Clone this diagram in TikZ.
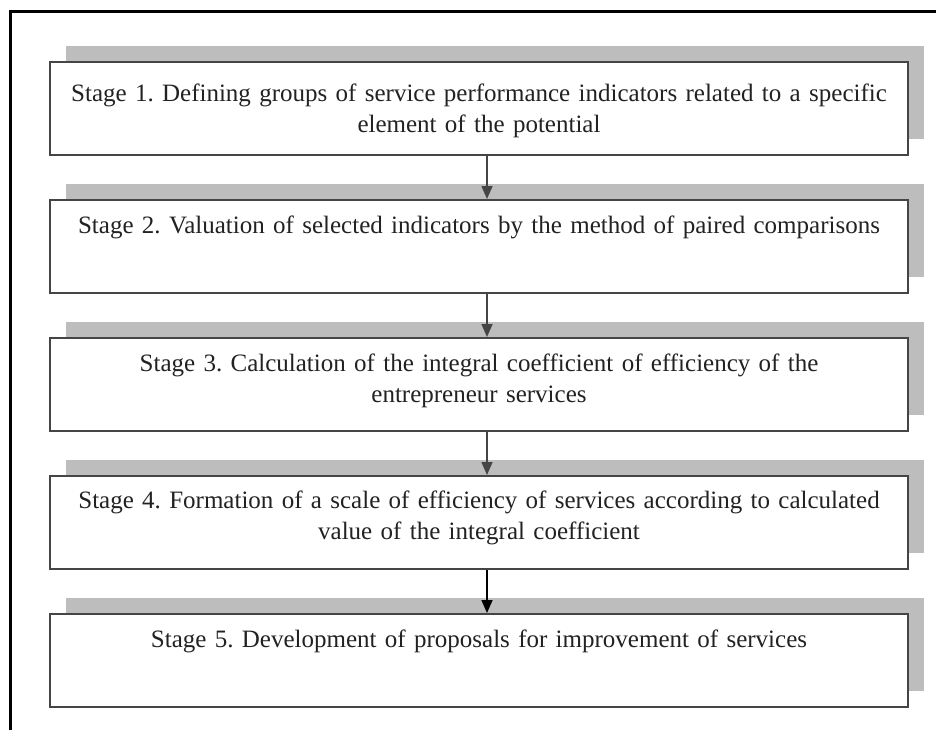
\documentclass[tikz,border=0pt]{standalone}
\usepackage{fontspec}
\setmainfont{Liberation Serif}
\frenchspacing
\usetikzlibrary{positioning,shadows,arrows.meta}
\definecolor{shadowgray}{HTML}{BDBDBD}
\definecolor{boxline}{HTML}{454545}
\definecolor{inkgray}{HTML}{222222}
\tikzset{
  stagebox/.style={draw=boxline,line width=2pt,fill=white,minimum width=858pt,minimum height=93pt,
    inner sep=0pt,general shadow={fill=shadowgray,shadow xshift=16pt,shadow yshift=16pt}},
  stagetext/.style={text width=856pt,align=center,inner sep=0pt,anchor=base,text=inkgray,
    font=\fontsize{25}{31}\selectfont},
  flow/.style={draw=boxline,line width=1.6pt,-{Triangle[length=13pt,width=11pt]}}
}
\begin{document}
\begin{tikzpicture}[x=1pt,y=1pt,node distance=43pt]
  \useasboundingbox (0,0) rectangle (936,-730);
  \draw [black,line width=3pt] (10,-731) -- (10,-12) -- (937,-12);
  % stage boxes
  \node [stagebox] (stage1) at (479,-108.5) {};
  \node [stagebox,below=of stage1] (stage2) {};
  \node [stagebox,below=of stage2] (stage3) {};
  \node [stagebox,below=of stage3] (stage4) {};
  \node [stagebox,below=of stage4] (stage5) {};
  \node [stagetext] (text1) at ([yshift=-41pt]stage1.north) {Stage 1. Defining groups of service performance indicators related to a specific\\ element of the potential};
  \node [stagetext] (text2) at ([yshift=-34pt]stage2.north) {Stage 2. Valuation of selected indicators by the method of paired comparisons};
  \node [stagetext] (text3) at ([yshift=-34pt]stage3.north) {Stage 3. Calculation of the integral coefficient of efficiency of the\\ entrepreneur services};
  \node [stagetext] (text4) at ([yshift=-33pt]stage4.north) {Stage 4. Formation of a scale of efficiency of services according to calculated\\ value of the integral coefficient};
  \node [stagetext] (text5) at ([yshift=-34pt]stage5.north) {Stage 5. Development of proposals for improvement of services};
  % arrows
  \draw [flow] ([xshift=8pt]stage1.south) -- ([xshift=8pt]stage2.north);
  \draw [flow] ([xshift=8pt]stage2.south) -- ([xshift=8pt]stage3.north);
  \draw [flow] ([xshift=8pt]stage3.south) -- ([xshift=8pt]stage4.north);
  \draw [flow,draw=black,fill=black] ([xshift=8pt]stage4.south) -- ([xshift=8pt]stage5.north);
\end{tikzpicture}
\end{document}
